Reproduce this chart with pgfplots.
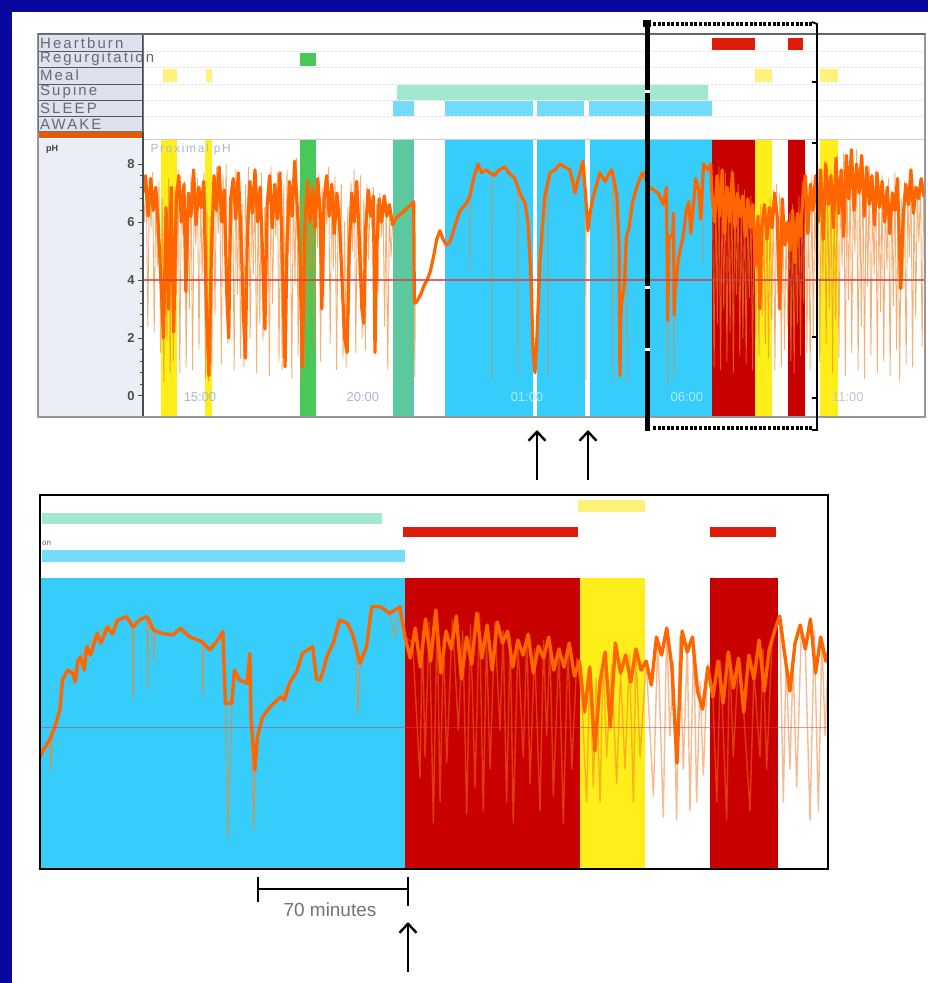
\documentclass[border=0pt]{standalone}
\usepackage{pgfplots}
\pgfplotsset{compat=1.18}
\usepackage{fontspec}
\setmainfont{Liberation Sans}
\newfontfamily\lblfont[LetterSpace=14]{Liberation Sans}
\usetikzlibrary{arrows.meta}

\definecolor{slide}{RGB}{8,8,160}
\definecolor{sleepband}{RGB}{55,205,250}
\definecolor{sleepbar}{RGB}{115,220,250}
\definecolor{supinebar}{RGB}{162,232,206}
\definecolor{supineband}{RGB}{92,200,158}
\definecolor{regurg}{RGB}{72,200,88}
\definecolor{meal}{RGB}{255,238,25}
\definecolor{mealbar}{RGB}{255,242,120}
\definecolor{hbband}{RGB}{200,0,0}
\definecolor{hbbar}{RGB}{222,28,10}
\definecolor{phorange}{RGB}{255,102,0}
\definecolor{phthin}{RGB}{240,135,45}
\definecolor{phspike}{RGB}{245,118,38}
\definecolor{refline}{RGB}{205,70,70}
\definecolor{labelbg}{RGB}{222,226,238}
\definecolor{panelbg}{RGB}{236,238,246}
\definecolor{framegray}{RGB}{150,150,156}
\definecolor{lbltext}{RGB}{100,106,120}
\definecolor{timelbl}{RGB}{170,182,212}

\pgfplotsset{
  panel/.style={scale only axis, anchor=north west, axis line style={draw=none},
    xtick=\empty, ytick=\empty, clip=true, no markers},
  thinph/.style={phthin, line width=0.9bp, opacity=0.65, line join=round},
  thickph/.style={phorange, line width=3.2bp, line join=round},
}

\begin{document}
\begin{tikzpicture}
% ---------- slide background and chart frames ----------
\begin{scope}[x=1bp,y=-1bp]
  \fill[slide] (0,0) rectangle (928,983);
  \fill[white] (12,12) rectangle (928,983);
  % top recorder panel: label column
  \fill[labelbg] (38,34) rectangle (143,131);
  \fill[panelbg] (38,139) rectangle (143,416);
  \fill[phorange!90!black] (38,132) rectangle (143,138);
  \foreach \yy in {51,67,84,100,116,131}
    \draw[black!65, line width=0.8bp] (38,\yy) -- (143,\yy);
  \foreach \yy in {51,67,84,100,116}
    \draw[black!12, line width=0.6bp, dash pattern=on 2bp off 2bp] (143,\yy) -- (925,\yy);
  \draw[black!20, line width=0.8bp] (143,139) -- (925,139);
  \node[anchor=west, text=lbltext, inner sep=0pt] at (40,43) {\lblfont\fontsize{15}{15}\selectfont Heartburn};
  \node[anchor=west, text=lbltext, inner sep=0pt] at (40,59) {\lblfont\fontsize{15}{15}\selectfont Regurgitation};
  \node[anchor=west, text=lbltext, inner sep=0pt] at (40,75) {\lblfont\fontsize{15}{15}\selectfont Meal};
  \node[anchor=west, text=lbltext, inner sep=0pt] at (40,92) {\lblfont\fontsize{15}{15}\selectfont Supine};
  \node[anchor=west, text=lbltext, inner sep=0pt] at (40,108) {\lblfont\fontsize{15}{15}\selectfont SLEEP};
  \node[anchor=west, text=lbltext, inner sep=0pt] at (40,124) {\lblfont\fontsize{15}{15}\selectfont AWAKE};
  \node[anchor=north west, text=black!75, inner sep=0pt] at (46,145) {\fontsize{9}{9}\selectfont\bfseries pH};
\end{scope}

% ---------- top panel: event rows ----------
\begin{axis}[panel, at={(143bp,-35bp)}, width=782bp, height=96bp,
  xmin=13.22, xmax=37.66, ymin=35, ymax=131, y dir=reverse]
  % heartburn
  \addplot[draw=none, fill=hbbar] coordinates {(31.0,38) (32.34,38) (32.34,50) (31.0,50)} -- cycle;
  \addplot[draw=none, fill=hbbar] coordinates {(33.375,38) (33.84,38) (33.84,50) (33.375,50)} -- cycle;
  % regurgitation
  \addplot[draw=none, fill=regurg] coordinates {(18.125,53) (18.625,53) (18.625,66) (18.125,66)} -- cycle;
  % meals
  \addplot[draw=none, fill=mealbar] coordinates {(13.84,69) (14.28,69) (14.28,82) (13.84,82)} -- cycle;
  \addplot[draw=none, fill=mealbar] coordinates {(15.19,69) (15.375,69) (15.375,82) (15.19,82)} -- cycle;
  \addplot[draw=none, fill=mealbar] coordinates {(32.34,69) (32.875,69) (32.875,82) (32.34,82)} -- cycle;
  \addplot[draw=none, fill=mealbar] coordinates {(34.375,69) (34.94,69) (34.94,82) (34.375,82)} -- cycle;
  % supine
  \addplot[draw=none, fill=supinebar] coordinates {(21.16,85) (30.875,85) (30.875,100) (21.16,100)} -- cycle;
  % sleep
  \addplot[draw=none, fill=sleepbar] coordinates {(21.03,101) (21.69,101) (21.69,116) (21.03,116)} -- cycle;
  \addplot[draw=none, fill=sleepbar] coordinates {(22.66,101) (25.41,101) (25.41,116) (22.66,116)} -- cycle;
  \addplot[draw=none, fill=sleepbar] coordinates {(25.53,101) (27.0,101) (27.0,116) (25.53,116)} -- cycle;
  \addplot[draw=none, fill=sleepbar] coordinates {(27.16,101) (31.0,101) (31.0,116) (27.16,116)} -- cycle;
\end{axis}

% ---------- top panel: 24 h pH trace ----------
\begin{axis}[panel, at={(143bp,-140bp)}, width=782bp, height=275bp,
  xmin=13.22, xmax=37.66, ymin=-0.66, ymax=8.83,
  ytick={0,2,4,6,8}, minor y tick num=4, ytick pos=left, tick align=outside,
  major tick length=5bp, minor tick length=3bp,
  every tick/.style={draw=black!70, line width=0.8bp},
  yticklabel style={font=\fontsize{13}{13}\selectfont\bfseries, text=black!70},
  /pgf/number format/assume math mode=true]
  % event bands
  \addplot[draw=none, fill=meal] coordinates {(13.78,-1) (14.28,-1) (14.28,9) (13.78,9)} -- cycle;
  \addplot[draw=none, fill=meal] coordinates {(15.16,-1) (15.375,-1) (15.375,9) (15.16,9)} -- cycle;
  \addplot[draw=none, fill=regurg] coordinates {(18.125,-1) (18.625,-1) (18.625,9) (18.125,9)} -- cycle;
  \addplot[draw=none, fill=supineband] coordinates {(21.03,-1) (21.69,-1) (21.69,9) (21.03,9)} -- cycle;
  \addplot[draw=none, fill=sleepband] coordinates {(22.66,-1) (25.41,-1) (25.41,9) (22.66,9)} -- cycle;
  \addplot[draw=none, fill=sleepband] coordinates {(25.53,-1) (27.03,-1) (27.03,9) (25.53,9)} -- cycle;
  \addplot[draw=none, fill=sleepband] coordinates {(27.19,-1) (31.0,-1) (31.0,9) (27.19,9)} -- cycle;
  \addplot[draw=none, fill=hbband] coordinates {(31.0,-1) (32.34,-1) (32.34,9) (31.0,9)} -- cycle;
  \addplot[draw=none, fill=meal] coordinates {(32.34,-1) (32.875,-1) (32.875,9) (32.34,9)} -- cycle;
  \addplot[draw=none, fill=hbband] coordinates {(33.375,-1) (33.91,-1) (33.91,9) (33.375,9)} -- cycle;
  \addplot[draw=none, fill=meal] coordinates {(34.375,-1) (34.94,-1) (34.94,9) (34.375,9)} -- cycle;
  % full-resolution pH (thin)
  \addplot[thinph] coordinates {
    (13.22,7.2) (13.27,6.0) (13.32,7.6) (13.37,2.4) (13.42,7.3) (13.47,5.8) (13.52,7.7) (13.57,2.2)
    (13.62,7.0) (13.67,4.5) (13.72,7.4) (13.77,1.5) (13.82,6.8) (13.87,0.5) (13.92,6.2) (13.97,1.9)
    (14.02,7.5) (14.07,0.8) (14.12,6.9) (14.17,1.2) (14.22,7.2) (14.27,3.5) (14.32,7.8) (14.37,0.8)
    (14.42,7.1) (14.47,5.5) (14.52,7.4) (14.57,1.0) (14.62,6.8) (14.67,3.0) (14.72,7.6) (14.77,0.9)
    (14.82,7.0) (14.87,5.2) (14.92,7.5) (14.97,1.6) (15.02,7.2) (15.07,4.0) (15.12,7.7) (15.17,0.6)
    (15.22,6.5) (15.27,0.5) (15.32,6.2) (15.37,1.0) (15.42,7.4) (15.47,2.8) (15.52,7.9) (15.57,5.6)
    (15.62,7.3) (15.67,1.1) (15.72,7.6) (15.77,4.8) (15.82,8.0) (15.87,1.8) (15.92,6.9) (15.97,5.0)
    (16.02,7.4) (16.07,0.9) (16.12,7.8) (16.17,3.5) (16.22,7.0) (16.27,1.3) (16.32,6.6) (16.37,1.0)
    (16.42,7.3) (16.47,5.4) (16.52,7.9) (16.57,2.0) (16.62,7.2) (16.67,4.2) (16.72,7.6) (16.77,0.8)
    (16.82,6.9) (16.87,2.5) (16.92,7.7) (16.97,1.9) (17.02,6.5) (17.07,4.6) (17.12,7.4) (17.17,0.7)
    (17.22,7.9) (17.27,3.2) (17.32,7.1) (17.37,5.5) (17.42,7.7) (17.47,1.2) (17.52,6.8) (17.57,0.9)
    (17.62,7.3) (17.67,2.3) (17.72,7.8) (17.77,4.9) (17.82,7.0) (17.87,0.6) (17.92,7.6) (17.97,3.8)
    (18.02,8.2) (18.07,1.4) (18.12,7.1) (18.17,0.5) (18.22,6.8) (18.27,1.0) (18.32,7.5) (18.37,2.5)
    (18.42,7.0) (18.47,4.2) (18.52,7.4) (18.57,1.6) (18.62,6.9) (18.67,5.1) (18.72,7.7) (18.77,1.2)
    (18.82,7.2) (18.87,3.4) (18.92,7.5) (18.97,5.9) (19.02,7.9) (19.07,1.8) (19.12,7.0) (19.17,4.4)
    (19.22,7.6) (19.27,0.9) (19.32,6.7) (19.37,5.3) (19.42,7.3) (19.47,1.3) (19.52,6.0) (19.57,1.0)
    (19.62,6.5) (19.67,2.8) (19.72,7.4) (19.77,5.0) (19.82,7.8) (19.87,1.5) (19.92,7.1) (19.97,4.1)
    (20.02,7.6) (20.07,2.0) (20.12,6.8) (20.17,1.6) (20.22,7.3) (20.27,4.7) (20.32,7.0) (20.37,5.8)
    (20.42,7.2) (20.47,1.4) (20.52,6.6) (20.57,3.6) (20.62,7.0) (20.67,5.5) (20.72,6.8) (20.77,2.4)
    (20.82,6.6) (20.87,0.9) (20.92,6.4) (20.97,4.8)
    (21.02,5.9) (21.1,6.1) (21.2,6.2) (21.3,6.3) (21.4,6.4) (21.5,6.5) (21.6,6.6) (21.68,6.7)
    (21.70,3.3) (21.715,0.65) (21.73,3.2) (21.8,3.3) (21.9,3.5) (22.0,3.8) (22.1,4.0) (22.2,4.3)
    (22.3,4.8) (22.4,5.4) (22.5,5.7) (22.6,5.4) (22.7,5.2) (22.81,5.3) (22.95,5.8) (23.125,6.4)
    (23.3,6.6) (23.43,6.9) (23.44,4.3) (23.45,7.0) (23.55,7.5) (23.69,8.0) (23.8,7.7) (23.95,7.8)
    (24.06,7.7) (24.12,7.6) (24.125,0.6) (24.13,7.6) (24.2,7.6) (24.35,7.8) (24.53,7.9) (24.65,7.7)
    (24.84,7.5) (24.93,7.2) (24.94,0.65) (24.95,7.1) (25.0,7.0) (25.16,6.65) (25.25,6.0) (25.35,4.0)
    (25.41,1.5) (25.47,0.8) (25.53,2.0) (25.625,4.6) (25.70,5.8) (25.78,6.9) (25.87,7.3) (25.875,0.7)
    (25.88,7.4) (25.94,7.7) (26.1,7.8) (26.25,8.0) (26.4,7.9) (26.56,7.8) (26.65,7.4) (26.72,7.0)
    (26.8,7.4) (26.875,7.7) (26.97,8.1) (27.05,7.2) (27.06,0.55) (27.07,6.6) (27.125,5.7) (27.19,6.3)
    (27.3,6.9) (27.45,7.5) (27.5,7.7) (27.66,7.4) (27.8,7.7) (27.875,7.8) (27.9,7.6) (27.91,0.5)
    (27.92,7.4) (28.03,6.9) (28.1,5.2) (28.125,0.7) (28.15,2.6) (28.18,3.2) (28.23,3.6) (28.27,4.0)
    (28.33,5.5) (28.34,0.4) (28.35,5.6) (28.41,5.8) (28.52,6.7) (28.68,7.3) (28.83,7.7) (28.93,7.5)
    (29.04,7.2) (29.19,7.1) (29.32,7.0) (29.48,6.6) (29.58,7.2) (29.62,0.3) (29.66,5.5) (29.77,5.5)
    (29.80,6.3) (29.82,0.6) (29.85,3.6) (29.95,4.7) (30.10,5.5) (30.20,6.4) (30.28,6.7) (30.34,5.6)
    (30.44,6.8) (30.49,7.5) (30.59,7.1) (30.65,6.1) (30.72,7.6) (30.725,4.6) (30.73,7.8) (30.74,8.0)
    (30.88,7.8) (30.96,8.0) (31.0,7.0)
    (31.02,6.8) (31.07,1.0) (31.12,7.4) (31.17,2.5) (31.22,7.9) (31.27,0.9) (31.32,7.2) (31.37,3.0)
    (31.42,7.7) (31.47,1.2) (31.52,7.0) (31.57,2.2) (31.62,7.8) (31.67,0.8) (31.72,6.9) (31.77,3.5)
    (31.82,7.3) (31.87,1.4) (31.92,6.8) (31.97,2.0) (32.02,7.1) (32.07,1.1) (32.12,6.6) (32.17,3.4)
    (32.22,6.9) (32.27,0.9) (32.32,6.4) (32.37,2.0) (32.42,6.2) (32.47,1.4) (32.52,6.6) (32.57,2.8)
    (32.62,6.3) (32.67,1.8) (32.72,6.5) (32.77,1.3) (32.82,6.8) (32.87,2.6) (32.92,7.1) (32.97,0.9)
    (33.02,7.3) (33.07,3.5) (33.12,7.0) (33.17,1.0) (33.22,6.8) (33.27,1.6) (33.32,6.0) (33.37,2.4)
    (33.42,6.3) (33.47,1.2) (33.52,6.6) (33.57,0.8) (33.62,6.2) (33.67,2.5) (33.72,6.9) (33.77,1.4)
    (33.82,7.4) (33.87,3.2) (33.92,7.8) (33.97,1.5) (34.02,6.9) (34.07,0.9) (34.12,7.6) (34.17,2.0)
    (34.22,7.1) (34.27,3.6) (34.32,7.9) (34.37,1.2) (34.42,7.4) (34.47,4.0) (34.52,8.1) (34.57,1.8)
    (34.62,7.2) (34.67,3.0) (34.72,7.8) (34.77,0.8) (34.82,7.0) (34.87,2.6) (34.92,8.3) (34.97,1.3)
    (35.02,7.6) (35.07,4.5) (35.12,8.4) (35.17,0.7) (35.22,7.5) (35.27,3.3) (35.32,8.0) (35.37,1.5)
    (35.42,7.3) (35.47,5.0) (35.52,8.5) (35.57,0.9) (35.62,7.7) (35.67,2.4) (35.72,8.2) (35.77,0.6)
    (35.82,7.4) (35.87,3.8) (35.92,7.9) (35.97,1.4) (36.02,7.0) (36.07,4.2) (36.12,7.8) (36.17,0.8)
    (36.22,7.3) (36.27,2.9) (36.32,7.6) (36.37,1.2) (36.42,6.9) (36.47,4.4) (36.52,7.5) (36.57,0.7)
    (36.62,7.1) (36.67,3.1) (36.72,7.7) (36.77,1.6) (36.82,7.0) (36.87,0.5) (36.92,6.8) (36.97,3.7)
    (37.02,7.4) (37.07,1.1) (37.12,7.2) (37.17,4.8) (37.22,7.6) (37.27,1.0) (37.32,7.3) (37.37,2.7)
    (37.42,7.0) (37.47,5.3) (37.52,7.4) (37.57,1.7) (37.62,7.1) (37.66,6.8)
  };
  % smoothed pH (thick)
  \addplot[thickph] coordinates {
    (13.22,7.0) (13.30,7.6) (13.38,6.2) (13.46,7.5) (13.54,6.4) (13.62,7.2) (13.70,5.8) (13.78,4.0)
    (13.86,2.0) (13.94,6.5) (14.02,3.0) (14.10,7.2) (14.18,2.2) (14.26,6.8) (14.34,7.6) (14.42,6.0)
    (14.50,7.3) (14.56,3.6) (14.64,7.0) (14.72,6.2) (14.80,7.8) (14.88,5.9) (14.96,7.2) (15.04,6.5)
    (15.12,7.4) (15.20,3.0) (15.28,0.7) (15.36,5.0) (15.44,7.6) (15.52,6.4) (15.60,7.9) (15.68,6.0)
    (15.76,7.1) (15.84,3.5) (15.90,2.0) (15.96,6.8) (16.04,7.5) (16.12,6.1) (16.20,7.7) (16.28,5.6)
    (16.36,2.8) (16.42,1.3) (16.48,5.5) (16.56,7.4) (16.64,6.3) (16.72,7.8) (16.80,6.0) (16.88,7.2)
    (16.96,4.8) (17.03,2.3) (17.10,6.6) (17.18,7.6) (17.26,5.8) (17.34,7.3) (17.42,6.1) (17.50,7.7)
    (17.58,4.5) (17.66,1.0) (17.72,5.2) (17.80,7.4) (17.88,6.2) (17.96,8.1) (18.04,6.5) (18.12,5.0)
    (18.20,1.0) (18.28,5.8) (18.36,7.4) (18.44,6.0) (18.52,7.2) (18.60,5.8) (18.68,7.5) (18.76,6.3)
    (18.81,3.0) (18.88,6.8) (18.96,7.6) (19.04,6.2) (19.12,7.3) (19.20,5.6) (19.28,7.0) (19.36,6.0)
    (19.44,4.0) (19.52,2.0) (19.60,1.5) (19.66,4.8) (19.74,7.0) (19.82,6.0) (19.90,7.4) (19.98,5.4)
    (20.06,3.0) (20.12,2.5) (20.18,5.8) (20.26,7.1) (20.34,6.2) (20.42,6.9) (20.47,1.5) (20.52,5.0)
    (20.60,6.8) (20.68,6.0) (20.76,6.9) (20.84,6.2) (20.92,6.6)
    (21.02,5.9) (21.1,6.1) (21.2,6.2) (21.3,6.3) (21.4,6.4) (21.5,6.5) (21.6,6.6) (21.68,6.7)
    (21.70,3.3) (21.73,3.2) (21.8,3.3) (21.9,3.5) (22.0,3.8) (22.1,4.0) (22.2,4.3) (22.3,4.8)
    (22.4,5.4) (22.5,5.7) (22.6,5.4) (22.7,5.2) (22.81,5.3) (22.95,5.8) (23.125,6.4) (23.3,6.6)
    (23.44,6.9) (23.55,7.5) (23.69,8.0) (23.8,7.7) (23.95,7.8) (24.06,7.7) (24.2,7.6) (24.35,7.8)
    (24.53,7.9) (24.65,7.7) (24.84,7.5) (25.0,7.0) (25.16,6.65) (25.25,6.0) (25.35,4.0) (25.41,1.5)
    (25.47,0.8) (25.53,2.0) (25.625,4.6) (25.70,5.8) (25.78,6.9) (25.94,7.7) (26.1,7.8) (26.25,8.0)
    (26.4,7.9) (26.56,7.8) (26.65,7.4) (26.72,7.0) (26.8,7.4) (26.875,7.7) (26.97,8.1) (27.06,6.8)
    (27.125,5.7) (27.19,6.3) (27.3,6.9) (27.45,7.5) (27.5,7.7) (27.66,7.4) (27.8,7.7) (27.875,7.8)
    (28.03,6.9) (28.1,5.2) (28.125,0.7) (28.15,2.6) (28.18,3.2) (28.23,3.6) (28.27,4.0) (28.33,5.5)
    (28.41,5.8) (28.52,6.7) (28.68,7.3) (28.83,7.7) (28.93,7.5) (29.04,7.2) (29.19,7.1) (29.32,7.0)
    (29.48,6.6) (29.58,7.2) (29.62,2.6) (29.66,5.5) (29.77,5.5) (29.80,6.3) (29.82,2.8) (29.85,3.6)
    (29.95,4.7) (30.10,5.5) (30.20,6.4) (30.28,6.7) (30.34,5.6) (30.44,6.8) (30.49,7.5) (30.59,7.1)
    (30.65,6.1) (30.74,8.0) (30.88,7.8) (30.96,8.0)
    (31.00,7.0) (31.08,6.0) (31.16,7.6) (31.24,6.2) (31.32,7.8) (31.40,5.6) (31.48,7.2) (31.56,6.0)
    (31.64,7.7) (31.72,5.8) (31.80,7.0) (31.88,6.2) (31.96,6.9) (32.04,5.5) (32.12,6.8) (32.20,5.8)
    (32.28,6.6) (32.36,4.5) (32.44,6.2) (32.50,3.0) (32.56,5.8) (32.64,6.6) (32.72,5.4) (32.80,6.5)
    (32.88,5.8) (32.96,7.0) (33.04,6.2) (33.12,3.0) (33.20,6.8) (33.28,5.2) (33.36,6.0) (33.44,5.0)
    (33.52,6.4) (33.60,4.6) (33.68,6.3) (33.76,5.5) (33.84,6.8) (33.92,7.6) (34.00,5.6) (34.08,7.3)
    (34.16,6.4) (34.24,7.6) (34.32,6.0) (34.40,7.8) (34.48,5.4) (34.56,8.0) (34.64,6.6) (34.72,7.6)
    (34.80,5.8) (34.88,8.2) (34.96,6.3) (35.04,7.8) (35.12,5.5) (35.20,8.3) (35.28,6.8) (35.36,8.5)
    (35.44,6.4) (35.52,8.0) (35.60,7.0) (35.68,8.3) (35.76,6.2) (35.84,7.9) (35.92,6.6) (36.00,7.6)
    (36.08,5.9) (36.16,7.7) (36.24,6.5) (36.32,7.4) (36.40,6.0) (36.48,7.2) (36.56,5.6) (36.64,7.0)
    (36.72,6.4) (36.80,7.5) (36.90,3.7) (36.98,6.2) (37.06,7.3) (37.14,6.6) (37.22,7.8) (37.30,6.3)
    (37.38,7.2) (37.46,6.8) (37.54,7.5) (37.62,6.9) (37.66,7.0)
  };
  % pH 4 reference
  \addplot[refline, line width=1.3bp, opacity=0.8] coordinates {(13.22,4) (37.66,4)};
  % labels inside the panel
  \node[anchor=north west, text=timelbl, inner sep=0pt] at (axis cs:13.45,8.72) {\lblfont\fontsize{12}{12}\selectfont Proximal pH};
  \node[text=timelbl, inner sep=0pt] at (axis cs:15.0,-0.05) {\fontsize{13}{13}\selectfont 15:00};
  \node[text=timelbl, inner sep=0pt] at (axis cs:20.09,-0.05) {\fontsize{13}{13}\selectfont 20:00};
  \node[text=white!60!sleepband, inner sep=0pt] at (axis cs:25.22,-0.05) {\fontsize{13}{13}\selectfont 01:00};
  \node[text=white!60!sleepband, inner sep=0pt] at (axis cs:30.22,-0.05) {\fontsize{13}{13}\selectfont 06:00};
  \node[text=timelbl!80!white, inner sep=0pt] at (axis cs:35.25,-0.05) {\fontsize{13}{13}\selectfont 11:00};
\end{axis}

% ---------- bottom panel: event rows ----------
\begin{axis}[panel, at={(40bp,-495bp)}, width=788bp, height=83bp,
  xmin=28.155, xmax=34.297, ymin=495, ymax=578, y dir=reverse]
  \addplot[draw=none, fill=mealbar] coordinates {(32.35,500) (32.87,500) (32.87,512) (32.35,512)} -- cycle;
  \addplot[draw=none, fill=supinebar] coordinates {(28.17,513) (30.82,513) (30.82,524) (28.17,524)} -- cycle;
  \addplot[draw=none, fill=hbbar] coordinates {(30.985,527) (32.35,527) (32.35,537) (30.985,537)} -- cycle;
  \addplot[draw=none, fill=hbbar] coordinates {(33.377,527) (33.89,527) (33.89,537) (33.377,537)} -- cycle;
  \addplot[draw=none, fill=sleepbar] coordinates {(28.17,550) (31.0,550) (31.0,562) (28.17,562)} -- cycle;
\end{axis}

% ---------- bottom panel: expanded pH trace ----------
\begin{axis}[panel, at={(40bp,-578bp)}, width=788bp, height=290bp,
  xmin=28.155, xmax=34.297, ymin=-0.7, ymax=8.97]
  \addplot[draw=none, fill=sleepband] coordinates {(28.1,-1) (31.0,-1) (31.0,10) (28.1,10)} -- cycle;
  \addplot[draw=none, fill=hbband] coordinates {(31.0,-1) (32.364,-1) (32.364,10) (31.0,10)} -- cycle;
  \addplot[draw=none, fill=meal] coordinates {(32.364,-1) (32.87,-1) (32.87,10) (32.364,10)} -- cycle;
  \addplot[draw=none, fill=hbband] coordinates {(33.377,-1) (33.907,-1) (33.907,10) (33.377,10)} -- cycle;
  % full-resolution pH, supine sleep
  \addplot[thinph, line width=1.4bp] coordinates {
    (28.155,3.0) (28.18,3.23) (28.23,3.57) (28.24,2.57) (28.25,3.7) (28.27,4.0) (28.31,4.57) (28.33,5.57)
    (28.37,5.9) (28.41,5.79) (28.47,6.34) (28.52,6.68) (28.60,7.12) (28.68,7.34) (28.76,7.57) (28.83,7.68)
    (28.875,7.4) (28.88,4.9) (28.885,7.3) (28.93,7.57) (28.99,7.68) (28.995,5.29) (29.0,7.6) (29.04,7.23)
    (29.045,6.2) (29.05,7.2) (29.11,7.12) (29.19,7.07) (29.25,7.29) (29.32,7.01) (29.42,6.84) (29.425,5.12)
    (29.43,6.8) (29.48,6.57) (29.53,6.84) (29.58,7.18) (29.60,4.79) (29.62,0.34) (29.65,4.79) (29.67,5.9)
    (29.71,5.57) (29.77,5.46) (29.79,6.46) (29.80,4.3) (29.82,0.57) (29.83,2.57) (29.85,3.68) (29.89,4.34)
    (29.95,4.68) (30.03,5.01) (30.10,5.46) (30.16,5.9) (30.20,6.46) (30.28,6.68) (30.31,5.6) (30.34,5.57)
    (30.37,6.0) (30.39,6.34) (30.44,6.79) (30.49,7.57) (30.55,7.46) (30.59,7.12) (30.62,6.8) (30.63,4.46)
    (30.65,6.12) (30.70,6.68) (30.74,8.01) (30.81,8.01) (30.88,7.79) (30.92,7.0) (30.96,8.01) (31.00,7.0)
  };
  % full-resolution pH, after waking
  \addplot[phspike, line width=1.4bp, opacity=0.5, line join=round] coordinates {
    (31.00,7.0)
    (31.06,6.8) (31.117,2.3) (31.135,7.2) (31.156,3.0) (31.19,7.5) (31.221,0.8) (31.25,7.8) (31.273,1.5)
    (31.30,7.0) (31.325,2.8) (31.37,7.6) (31.416,3.9) (31.45,7.2) (31.481,1.1) (31.51,7.4) (31.546,2.0)
    (31.58,7.8) (31.61,1.2) (31.635,6.9) (31.663,2.6) (31.70,7.5) (31.74,3.9) (31.765,7.2) (31.792,1.5)
    (31.82,7.0) (31.844,0.8) (31.88,6.8) (31.922,3.0) (31.95,7.1) (31.974,2.1) (32.01,6.6) (32.052,1.2)
    (32.08,6.9) (32.104,3.7) (32.13,6.8) (32.156,1.7) (32.20,6.6) (32.234,0.8) (32.27,6.7) (32.30,2.6)
    (32.34,6.3) (32.38,4.8) (32.416,1.5) (32.44,6.0) (32.468,2.0) (32.49,5.6) (32.52,1.5) (32.545,6.4)
    (32.572,3.0) (32.61,6.1) (32.65,2.1) (32.68,5.8) (32.715,2.6) (32.75,6.4) (32.78,1.5) (32.80,6.6)
    (32.832,3.0) (32.88,6.2) (32.936,1.7) (32.97,7.0) (33.013,1.0) (33.04,7.3) (33.065,3.7) (33.09,6.2)
    (33.117,0.9) (33.14,7.0) (33.169,2.6) (33.20,6.8) (33.221,1.2) (33.25,7.0) (33.273,1.5) (33.30,5.5)
    (33.325,2.4) (33.36,6.1) (33.40,5.0) (33.43,1.5) (33.46,6.2) (33.507,0.9) (33.53,6.5) (33.559,3.0)
    (33.60,6.3) (33.64,4.5) (33.689,1.2) (33.72,5.8) (33.767,3.0) (33.79,6.6) (33.819,2.6) (33.86,6.8)
    (33.92,7.7) (33.949,1.5) (33.97,6.4) (34.00,2.6) (34.025,6.2) (34.053,2.0) (34.09,7.4) (34.12,6.6)
    (34.157,0.9) (34.19,7.2) (34.222,1.2) (34.25,7.0) (34.274,3.7) (34.30,6.5)
  };
  % smoothed pH (thick)
  \addplot[thickph, line width=3.4bp] coordinates {
    (28.155,3.0) (28.18,3.23) (28.23,3.57) (28.27,4.0) (28.31,4.57) (28.33,5.57) (28.37,5.9) (28.41,5.79)
    (28.43,5.5) (28.45,6.2) (28.47,6.34) (28.50,5.9) (28.52,6.68) (28.55,6.4) (28.60,7.12) (28.63,6.8)
    (28.68,7.34) (28.72,7.1) (28.76,7.57) (28.83,7.68) (28.88,7.34) (28.93,7.57) (28.99,7.68) (29.04,7.23)
    (29.11,7.12) (29.19,7.07) (29.25,7.29) (29.32,7.01) (29.42,6.84) (29.48,6.57) (29.53,6.84) (29.58,7.18)
    (29.60,4.79) (29.65,4.79) (29.67,5.9) (29.71,5.57) (29.77,5.46) (29.79,6.46) (29.80,4.3) (29.83,2.57)
    (29.85,3.68) (29.89,4.34) (29.95,4.68) (30.03,5.01) (30.06,4.9) (30.10,5.46) (30.16,5.9) (30.20,6.46)
    (30.28,6.68) (30.31,5.6) (30.34,5.57) (30.37,6.0) (30.39,6.34) (30.44,6.79) (30.49,7.57) (30.55,7.46)
    (30.59,7.12) (30.65,6.12) (30.70,6.68) (30.74,8.01) (30.81,8.01) (30.88,7.79) (30.96,8.01) (31.00,7.0)
    (31.04,6.3) (31.08,7.3) (31.12,6.0) (31.16,7.6) (31.20,6.2) (31.24,7.9) (31.28,5.8) (31.32,7.2)
    (31.36,6.6) (31.40,7.7) (31.44,5.6) (31.48,7.0) (31.52,6.1) (31.56,7.8) (31.60,6.3) (31.64,7.4)
    (31.68,5.9) (31.72,7.5) (31.76,6.8) (31.80,7.2) (31.84,6.0) (31.88,6.9) (31.92,6.4) (31.96,7.1)
    (32.00,5.8) (32.04,6.7) (32.08,6.3) (32.12,7.0) (32.16,5.9) (32.20,6.6) (32.24,6.0) (32.28,6.8)
    (32.32,5.7) (32.36,6.2) (32.40,4.5) (32.44,6.0) (32.48,3.2) (32.52,5.5) (32.56,6.5) (32.60,4.0)
    (32.64,6.8) (32.68,5.8) (32.72,6.4) (32.76,5.5) (32.80,6.6) (32.84,5.9) (32.88,6.2) (32.92,5.4)
    (32.96,7.0) (33.00,6.4) (33.04,7.3) (33.08,6.0) (33.12,2.8) (33.16,7.2) (33.20,6.5) (33.24,7.0)
    (33.28,5.2) (33.32,4.6) (33.36,6.0) (33.40,5.0) (33.44,6.2) (33.48,4.8) (33.52,6.5) (33.56,5.3)
    (33.60,6.3) (33.64,4.5) (33.68,6.4) (33.72,5.6) (33.76,6.9) (33.80,5.2) (33.84,6.6) (33.88,7.2)
    (33.92,7.7) (33.96,6.4) (34.00,5.2) (34.04,6.8) (34.08,7.4) (34.12,6.6) (34.16,7.6) (34.20,5.8)
    (34.24,7.0) (34.28,6.2) (34.30,6.5)
  };
  \addplot[refline, line width=0.8bp, opacity=0.55] coordinates {(28.155,4) (34.297,4)};
\end{axis}

% ---------- overlays: frames, zoom window, arrows, scale bar ----------
\begin{scope}[x=1bp,y=-1bp]
  % top panel frame
  \draw[framegray, line width=1.6bp] (38,34) rectangle (925,417);
  \draw[black!60, line width=2.4bp] (38,34) -- (925,34);
  \draw[black!70, line width=1.2bp] (143,34) -- (143,416);
  \draw[black!55, line width=1bp] (38,34) rectangle (143,131);
  % bottom panel frame
  \draw[black, line width=1.8bp] (40,495) rectangle (828,869);
  \node[anchor=west, text=black!60, inner sep=0pt] at (42,543) {\fontsize{8}{8}\selectfont on};
  % zoom window on the top trace
  \fill[black] (643,20) rectangle (651,27);
  \draw[black, line width=4bp, dash pattern=on 3bp off 1.6bp] (653,24) -- (814,24);
  \draw[black, line width=4bp, dash pattern=on 3bp off 1.6bp] (653,428) -- (814,428);
  \draw[black, line width=5bp] (647.5,20) -- (647.5,431);
  \foreach \yy in {90,286,348}
    \fill[white] (645,\yy) rectangle (650,\yy+2.5);
  \draw[black, line width=1.8bp] (812,22) -- (817,24) -- (817,430) -- (812,430);
  \foreach \yy in {82,143,337,398}
    \draw[black, line width=1.4bp] (812,\yy) -- (817,\yy);
  % arrows
  \draw[black, line width=2.4bp, -{Straight Barb[length=9bp,width=17bp]}] (537,480) -- (537,430);
  \draw[black, line width=2.4bp, -{Straight Barb[length=9bp,width=17bp]}] (588,480) -- (588,430);
  \draw[black, line width=2.4bp, -{Straight Barb[length=9bp,width=17bp]}] (408,972) -- (408,922);
  % 70 minute scale bar
  \draw[black, line width=2bp] (258,877) -- (258,902);
  \draw[black, line width=2bp] (258,889) -- (408,889);
  \draw[black, line width=2bp] (408,877) -- (408,906);
  \node[text=black!55, inner sep=0pt] at (330,910) {\fontsize{19}{19}\selectfont 70 minutes};
\end{scope}
\pgfresetboundingbox
\path[use as bounding box] (0,0) rectangle (928bp,-983bp);
\end{tikzpicture}
\end{document}
